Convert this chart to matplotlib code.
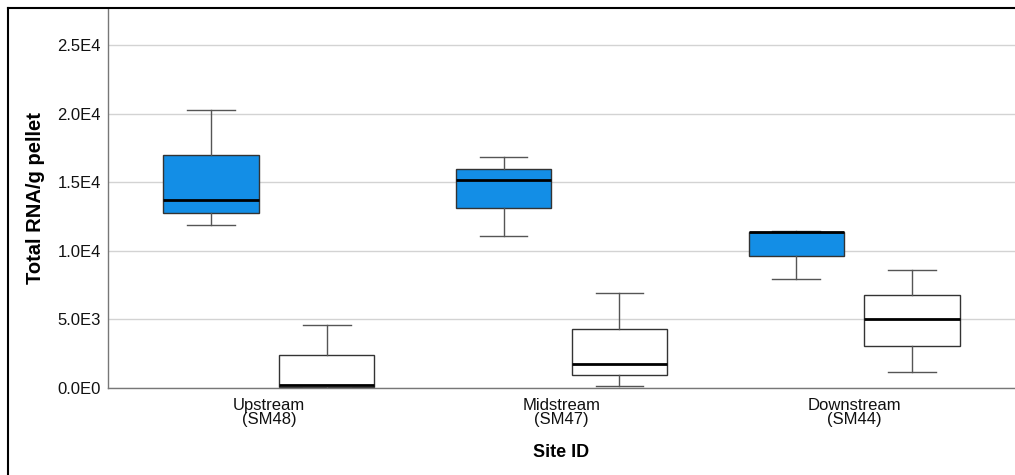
import matplotlib
matplotlib.use("Agg")
import matplotlib.pyplot as plt
from matplotlib.lines import Line2D

plt.rcParams['font.family'] = ['Liberation Sans', 'DejaVu Sans']

sites = ["Upstream\n(SM48)", "Midstream\n(SM47)", "Downstream\n(SM44)"]

# Blue series (five-number summaries: whislo, q1, med, q3, whishi)
blue_whislo = [11850, 11100, 7950]
blue_q1 = [12780, 13120, 9640]
blue_med = [13700, 15140, 11350]
blue_q3 = [16980, 15960, 11380]
blue_whishi = [20280, 16820, 11470]

# White series
white_whislo = [20, 170, 1170]
white_q1 = [90, 950, 3090]
white_med = [230, 1750, 5010]
white_q3 = [2400, 4320, 6760]
white_whishi = [4570, 6900, 8580]

yticks = [0, 5000, 10000, 15000, 20000, 25000]
ytick_labels = ["0.0E0", "5.0E3", "1.0E4", "1.5E4", "2.0E4", "2.5E4"]

fig = plt.figure(figsize=(10.15, 4.75), dpi=100)
ax = fig.add_axes([108/1015, 87/475, (1015-108)/1015, (467-87)/475])

def stats(lo, q1, med, q3, hi):
    return [dict(whislo=a, q1=b, med=c, q3=d, whishi=e, fliers=[])
            for a, b, c, d, e in zip(lo, q1, med, q3, hi)]

off = 0.198
width = 0.325
common = dict(widths=width, patch_artist=True, showfliers=False,
              whiskerprops=dict(color='#555555', lw=1.0),
              capprops=dict(color='#555555', lw=1.0),
              medianprops=dict(color='black', lw=2.0),
              capwidths=width/2)
ax.bxp(stats(blue_whislo, blue_q1, blue_med, blue_q3, blue_whishi),
       positions=[i - off for i in range(3)],
       boxprops=dict(facecolor='#138EE6', edgecolor='#333333', lw=1.0),
       **common)
ax.bxp(stats(white_whislo, white_q1, white_med, white_q3, white_whishi),
       positions=[i + off for i in range(3)],
       boxprops=dict(facecolor='white', edgecolor='#333333', lw=1.0),
       **common)

ax.set_xlim(-0.55, 2.55)
ax.set_ylim(0, 27700)
ax.set_yticks(yticks)
ax.set_yticklabels(ytick_labels)
ax.set_xticks(range(3))
ax.set_xticklabels(sites, linespacing=0.95)
ax.yaxis.grid(True, color='#d3d3d3', lw=1.0)
ax.set_axisbelow(True)
ax.tick_params(axis='both', length=0, labelsize=12, colors='#111111')
ax.tick_params(axis='y', pad=5)
ax.tick_params(axis='x', pad=7)
for s in ['top', 'right']:
    ax.spines[s].set_visible(False)
for s in ['left', 'bottom']:
    ax.spines[s].set_color('#777777')
    ax.spines[s].set_linewidth(1.0)

ax.set_xlabel("Site ID", fontsize=13, fontweight='bold', labelpad=12)
ax.set_ylabel("Total RNA/g pellet", fontsize=14.5, fontweight='bold', labelpad=9)

# figure border (top and left)
fig.add_artist(Line2D([8/1015, 8/1015], [0, 467/475], transform=fig.transFigure,
                      color='black', lw=1.5))
fig.add_artist(Line2D([8/1015, 1], [467/475, 467/475], transform=fig.transFigure,
                      color='black', lw=1.5))

fig.savefig("out.png", dpi=100)
